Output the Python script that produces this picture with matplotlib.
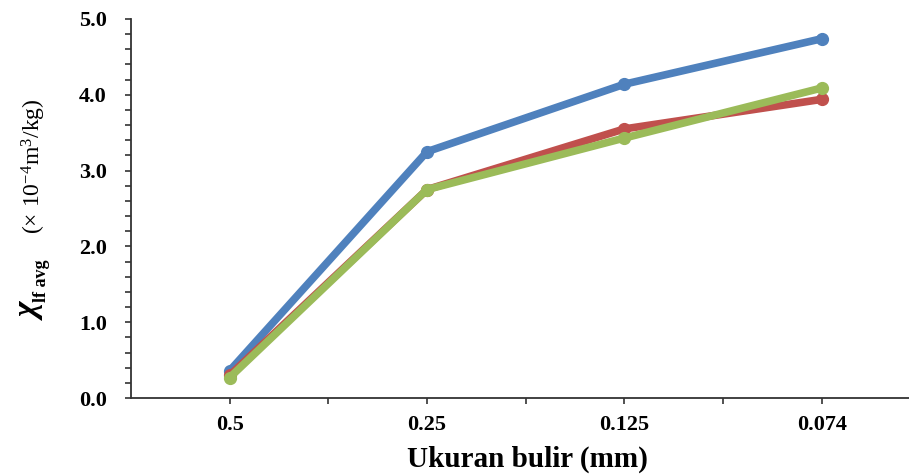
import matplotlib
matplotlib.use("Agg")
import matplotlib.pyplot as plt
from matplotlib.ticker import MultipleLocator, FixedLocator

categories = ["0.5", "0.25", "0.125", "0.074"]
blue_vals = [0.36, 3.25, 4.14, 4.74]
red_vals = [0.30, 2.75, 3.55, 3.94]
green_vals = [0.27, 2.75, 3.43, 4.09]

plt.rcParams['font.family'] = ['Liberation Serif', 'DejaVu Serif']
plt.rcParams['mathtext.fontset'] = 'custom'
plt.rcParams['mathtext.rm'] = 'Liberation Serif'
plt.rcParams['mathtext.it'] = 'Liberation Serif:italic'
plt.rcParams['mathtext.bf'] = 'Liberation Serif:bold'

fig = plt.figure(figsize=(9.09, 4.75), dpi=100)
ax = fig.add_axes([131/909, 1-398/475, (920.5-131)/909, (398-19)/475])

x = list(range(len(categories)))
lw = 5.5
ms = 8.5
ax.plot(x, blue_vals, color='#4F81BD', lw=lw, marker='o', ms=ms, solid_capstyle='round', solid_joinstyle='round')
ax.plot(x, red_vals, color='#C0504D', lw=lw, marker='o', ms=ms, solid_capstyle='round', solid_joinstyle='round')
ax.plot(x, green_vals, color='#9BBB59', lw=lw, marker='o', ms=ms, solid_capstyle='round', solid_joinstyle='round')

ax.set_xlim(-0.5, 3.5)
ax.set_ylim(0, 5)
ax.set_xticks(x)
ax.set_xticklabels(categories, fontsize=16, fontweight='bold')
ax.xaxis.set_minor_locator(FixedLocator([0.5, 1.5, 2.5]))
ax.yaxis.set_major_locator(MultipleLocator(1.0))
ax.yaxis.set_minor_locator(MultipleLocator(0.2))
ax.set_yticklabels([f"{v:.1f}" for v in ax.get_yticks()], fontsize=16, fontweight='bold')

for s in ['top', 'right']:
    ax.spines[s].set_visible(False)
for s in ['left', 'bottom']:
    ax.spines[s].set_color('#333333')
    ax.spines[s].set_linewidth(1.3)

ax.tick_params(axis='both', which='both', direction='out', length=4.5, width=1.2, color='#333333')
ax.tick_params(axis='y', which='major', pad=13)
ax.tick_params(axis='x', which='major', pad=8)

fig.text(527/909, 1-459/475, "Ukuran bulir (mm)", fontsize=21, fontweight='bold',
         ha='center', va='center')

# y label: large bold italic chi with bold subscript, then regular unit text
fig.text(31/909, 1-312/475, 'χ', fontsize=24, fontweight='bold', fontstyle='italic',
         rotation=90, ha='center', va='center')
fig.text(41/909, 1-302/475, 'lf avg', fontsize=13, fontweight='bold', rotation=90,
         ha='center', va='bottom')
fig.text(34/909, 1-234/475, r'(× 10$^{-4}$m$^{3}$/kg)', fontsize=17, rotation=90,
         ha='center', va='bottom')

fig.savefig("out.png", dpi=100)
